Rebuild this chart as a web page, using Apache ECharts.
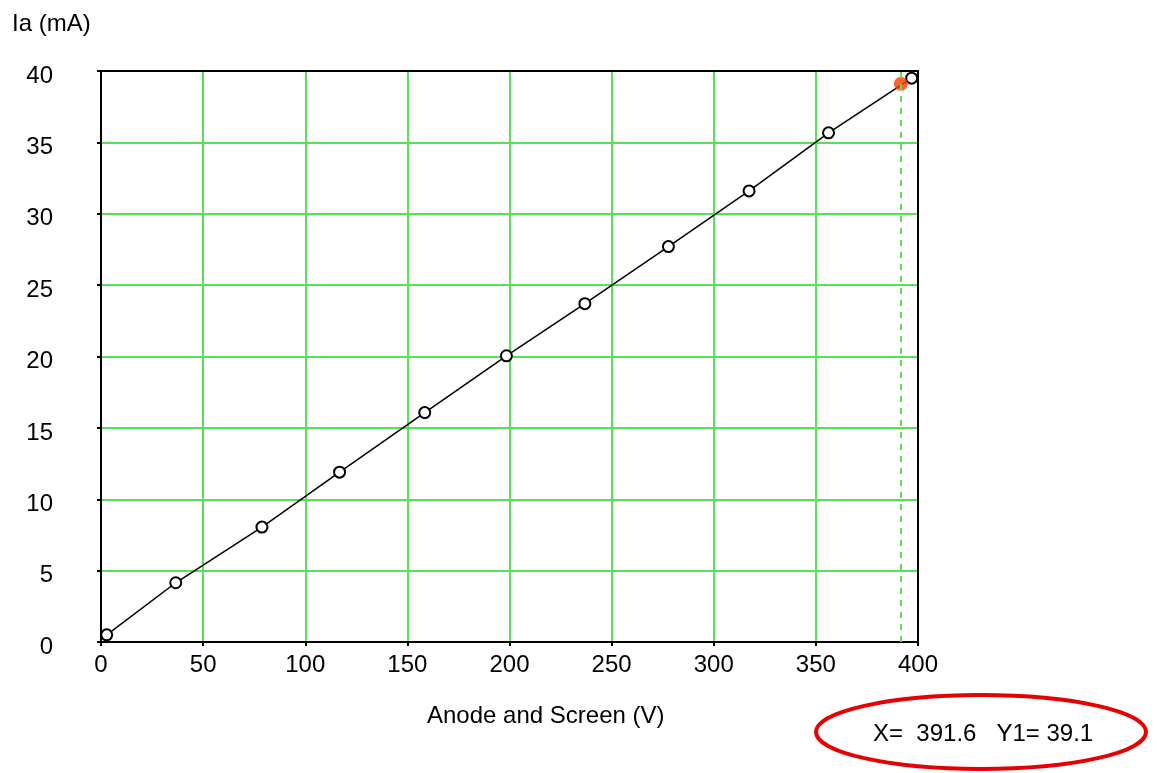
<!DOCTYPE html>
<html>
<head>
<meta charset="utf-8">
<script src="https://cdn.jsdelivr.net/npm/echarts@6/dist/echarts.min.js"></script>
<style>
  html, body { margin: 0; padding: 0; background: #fff; }
  #chart { width: 1157px; height: 773px; }
</style>
</head>
<body>
<div id="chart"></div>
<script>
// anode + screen voltage (V) and anode current (mA)
const voltage = [2.8, 36.6, 78.8, 116.8, 158.5, 198.5, 236.9, 277.8, 317.3, 356.2, 396.9];
const current = [0.5, 4.15, 8.05, 11.9, 16.07, 20.05, 23.7, 27.7, 31.6, 35.67, 39.5];
// cursor position shown in the readout
const cursorX = [391.6];
const cursorY = [39.1];

const font = 'Liberation Sans';
const gridGreen = '#55e355';

// plain black frame line for the top / right edges
const frameAxis = {
  axisLine: { show: true, onZero: false, lineStyle: { color: '#000', width: 2 } },
  axisTick: { show: false },
  axisLabel: { show: false },
  splitLine: { show: false },
  z: 20
};

const chart = echarts.init(document.getElementById('chart'));

chart.setOption({
  animation: false,
  backgroundColor: '#fff',
  grid: { left: 101, right: 239, top: 71, bottom: 131 },
  xAxis: [
    {
      type: 'value', min: 0, max: 400, interval: 50,
      axisLine: { show: true, onZero: false, lineStyle: { color: '#000', width: 2 } },
      axisTick: { show: true, length: 4, lineStyle: { color: '#000', width: 2 } },
      axisLabel: { color: '#000', fontFamily: font, fontSize: 24, margin: 11 },
      splitLine: { show: true, lineStyle: { color: gridGreen, width: 2 } }
    },
    Object.assign({ type: 'value', min: 0, max: 400, position: 'top' }, frameAxis)
  ],
  yAxis: [
    {
      type: 'value', min: 0, max: 40, interval: 5,
      axisLine: { show: true, onZero: false, lineStyle: { color: '#000', width: 2 } },
      axisTick: { show: true, length: 4, lineStyle: { color: '#000', width: 2 } },
      axisLabel: {
        color: '#000', fontFamily: font, fontSize: 24, margin: 48,
        formatter: '{a|{value}}',
        rich: { a: { fontFamily: font, fontSize: 24, color: '#000', padding: [10, 0, 0, 0] } }
      },
      splitLine: { show: true, lineStyle: { color: gridGreen, width: 2 } }
    },
    Object.assign({ type: 'value', min: 0, max: 40, position: 'right' }, frameAxis)
  ],
  series: [
    {
      type: 'line',
      data: voltage.map((v, i) => [v, current[i]]),
      symbol: 'emptyCircle',
      symbolSize: 11,
      lineStyle: { color: '#000', width: 1.5 },
      itemStyle: { color: '#000', borderColor: '#000', borderWidth: 1.5 },
      z: 3
    },
    {
      type: 'scatter',
      data: cursorX.map((v, i) => [v, cursorY[i]]),
      symbolSize: 14,
      itemStyle: { color: '#ff3a00' },
      z: 4,
      markLine: {
        silent: true,
        symbol: 'none',
        label: { show: false },
        lineStyle: { color: gridGreen, type: [6, 6], width: 2 },
        data: [{ xAxis: cursorX[0] }]
      }
    }
  ],
  graphic: [
    {
      type: 'text', left: 12, top: 12,
      style: { text: 'Ia (mA)', font: '24px "Liberation Sans"', fill: '#000' }
    },
    {
      type: 'text', left: 427, top: 704,
      style: { text: 'Anode and Screen (V)', font: '24px "Liberation Sans"', fill: '#000' }
    },
    {
      type: 'ellipse',
      shape: { cx: 981, cy: 732, rx: 165, ry: 37 },
      style: { fill: 'none', stroke: '#e60000', lineWidth: 4 }
    },
    {
      type: 'text', left: 873, top: 722,
      style: { text: 'X=  391.6   Y1= 39.1', font: '24px "Liberation Sans"', fill: '#000' }
    }
  ]
});
</script>
</body>
</html>
